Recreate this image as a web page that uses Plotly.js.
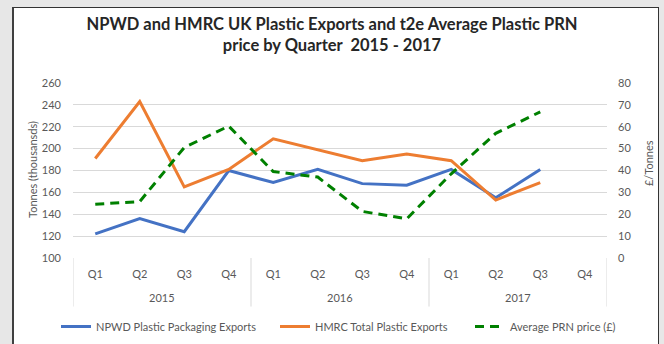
<!DOCTYPE html>
<html><head><meta charset="utf-8">
<script src="https://cdn.plot.ly/plotly-3.0.1.min.js"></script>
<style>
html,body{margin:0;padding:0;background:#e7e7e7;width:664px;height:344px;overflow:hidden;}
#box{position:absolute;left:12px;top:7px;width:644px;height:360px;background:#fff;border-top:1px solid #333;border-left:2px solid #404040;border-right:1px solid #333;}
#chart{position:absolute;left:0;top:0;width:664px;height:344px;}
</style></head><body><div id="box"></div><div id="chart"></div>
<script>
const years = ['2015','2015','2015','2015','2016','2016','2016','2016','2017','2017','2017','2017'];
const quarters = ['Q1','Q2','Q3','Q4','Q1','Q2','Q3','Q4','Q1','Q2','Q3','Q4'];
const yearLabels = ['2015','2016','2017'];
const npwdExports = [122,136,124,180,169,181,168,166.5,181,155,181,null];
const hmrcExports = [191,243,165,181,209,199,189,195,189,153,169,null];
const prnPrice = [24.6,25.8,50.5,60.3,39.5,37,21.3,17.9,38.5,57,66.8,null];
const seriesNames = ['NPWD Plastic Packaging Exports','HMRC Total Plastic Exports','Average PRN price (£)'];

const FONT = 'Lato, "Open Sans", sans-serif';
const GREY = '#595959';
const cats = years.map((y, i) => y + ' ' + quarters[i]);
const traces = [
  {x:cats, y:npwdExports, name:seriesNames[0], type:'scatter', mode:'lines', legend:'legend', line:{color:'#4472C4', width:3}},
  {x:cats, y:hmrcExports, name:seriesNames[1], type:'scatter', mode:'lines', legend:'legend2', line:{color:'#ED7D31', width:3}},
  {x:cats, y:prnPrice, name:seriesNames[2], type:'scatter', mode:'lines', yaxis:'y2', legend:'legend3', line:{color:'#008000', width:3, dash:'9px,6px'}}
];
const H = 344;
const plotL = 73, plotW = 534, plotB = 258.3, plotH = 175.6;
const px2x = p => (p - plotL) / plotW;
const px2y = p => (plotB - p) / plotH;
const legBase = {orientation:'h', xanchor:'left', yref:'container', y:1 - 312/H, yanchor:'top', font:{family:FONT, size:11, color:GREY}, bgcolor:'rgba(0,0,0,0)'};

const shapes = [];
for (let i = 0; i <= yearLabels.length; i++) {
  shapes.push({type:'line', xref:'x', yref:'paper', x0:i*4-0.5, x1:i*4-0.5, y0:0, y1:px2y(307), line:{color:'#d9d9d9', width:1}});
}
const annotations = yearLabels.map((yl, i) => ({text:yl, xref:'x', yref:'paper', x:i*4+1.5, y:px2y(298), xanchor:'center', yanchor:'middle', showarrow:false, font:{family:FONT, size:11, color:GREY}}));
annotations.push(
  {text:'Tonnes (thousansds)', xref:'paper', yref:'paper', x:px2x(32), y:px2y(170), xanchor:'center', yanchor:'middle', textangle:-90, showarrow:false, font:{family:FONT, size:11, color:GREY}},
  {text:'£/Tonnes', xref:'paper', yref:'paper', x:px2x(648), y:px2y(163), xanchor:'center', yanchor:'middle', textangle:-90, showarrow:false, font:{family:FONT, size:11, color:GREY}}
);

const layout = {
  width:664, height:H,
  margin:{l:73, r:57, t:83, b:86},
  paper_bgcolor:'rgba(0,0,0,0)', plot_bgcolor:'rgba(0,0,0,0)',
  font:{family:FONT, size:11, color:GREY},
  title:{text:'NPWD and HMRC UK Plastic Exports and t2e Average Plastic PRN<br>price by Quarter  2015 - 2017',
    font:{family:FONT, size:16.5, color:'#262626', weight:'bold'}, x:0.5, xanchor:'center', y:0.913, yanchor:'top'},
  showlegend:true,
  legend:Object.assign({}, legBase, {x:px2x(56)}),
  legend2:Object.assign({}, legBase, {x:px2x(275)}),
  legend3:Object.assign({}, legBase, {x:px2x(470)}),
  xaxis:{type:'category', range:[-0.5, 11.5], tickmode:'array', tickvals:cats, ticktext:quarters, showgrid:false, showline:false, zeroline:false, ticks:'', ticklabelstandoff:8, tickfont:{size:11, color:GREY}},
  yaxis:{range:[100,260], dtick:20, showgrid:true, gridcolor:'#d9d9d9', gridwidth:1, zeroline:false, showline:false, ticks:'', ticklabelstandoff:11, tickfont:{size:11, color:GREY}},
  yaxis2:{range:[0,80], dtick:10, overlaying:'y', side:'right', showgrid:false, zeroline:false, showline:false, ticks:'', ticklabelstandoff:10, tickfont:{size:11, color:GREY}},
  shapes:shapes,
  annotations:annotations
};
Plotly.newPlot('chart', traces, layout, {displayModeBar:false, staticPlot:true});
</script></body></html>
